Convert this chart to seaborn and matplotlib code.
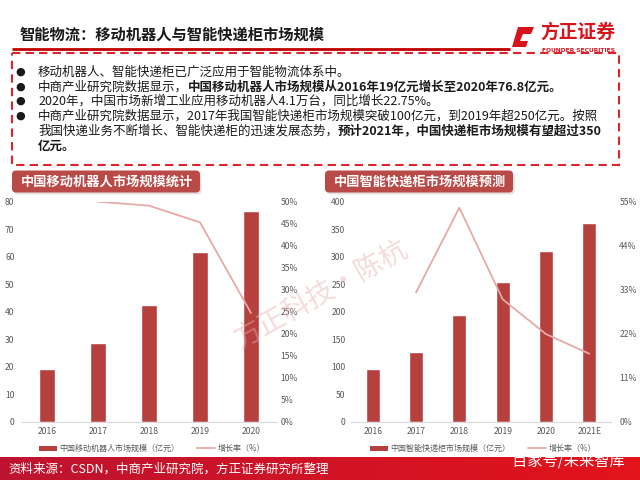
import numpy as np
import pandas as pd
import seaborn as sns
import matplotlib.pyplot as plt
from matplotlib.patches import Rectangle, FancyBboxPatch, Polygon, Patch
from matplotlib.lines import Line2D
from matplotlib.colors import LinearSegmentedColormap

# values
robot_years = ["2016", "2017", "2018", "2019", "2020"]
robot_size = [19.0, 28.5, 42.4, 61.6, 76.8]
robot_growth = [np.nan, 50.0, 49.1, 45.3, 24.7]
robot_ticks = [0, 10, 20, 30, 40, 50, 60, 70, 80]
robot_gticks = [0, 5, 10, 15, 20, 25, 30, 35, 40, 45, 50]

locker_years = ["2016", "2017", "2018", "2019", "2020", "2021E"]
locker_size = [96, 127, 194.5, 254, 310, 362]
locker_growth = [np.nan, 32.3, 53.5, 30.6, 21.9, 17.0]
locker_ticks = [0, 50, 100, 150, 200, 250, 300, 350, 400]
locker_gticks = [0, 11, 22, 33, 44, 55]

title = "智能物流：移动机器人与智能快递柜市场规模"
bullets = [
    [("移动机器人、智能快递柜已广泛应用于智能物流体系中。", "normal")],
    [("中商产业研究院数据显示，", "normal"),
     ("中国移动机器人市场规模从2016年19亿元增长至2020年76.8亿元。", "bold")],
    [("2020年，中国市场新增工业应用移动机器人4.1万台，同比增长22.75%。", "normal")],
    [("中商产业研究院数据显示，2017年我国智能快递柜市场规模突破100亿元，到2019年超250亿元。按照", "normal")],
    [("我国快递业务不断增长、智能快递柜的迅速发展态势，", "normal"),
     ("预计2021年，中国快递柜市场规模有望超过350", "bold")],
    [("亿元。", "bold")],
]
has_dot = [True, True, True, True, False, False]
source = "资料来源：CSDN，中商产业研究院，方正证券研究所整理"

BAR = "#B5403E"
LINE = "#E8A9A6"
GREY = "#595959"
RED = "#D7141C"

sns.set_theme(style="white")
plt.rcParams['font.family'] = ['Noto Sans CJK SC', 'DejaVu Sans']

fig = plt.figure(figsize=(6.4, 4.8), dpi=100)


def px_axes(x0, x1, y_top, y_bot):
    return fig.add_axes([x0 / 640, 1 - y_bot / 480, (x1 - x0) / 640, (y_bot - y_top) / 480])


def draw_chart(ax, years, sizes, growth, ticks, gticks, width, name, pad_l, pad_r, leg_x):
    sns.barplot(x=years, y=sizes, color=BAR, width=width, saturation=1, ax=ax)
    ax.set_ylim(ticks[0], ticks[-1])
    ax.set_yticks(ticks)
    ax.set_xlabel("")
    ax.set_ylabel("")
    ax.tick_params(axis="y", labelsize=6.2, colors=GREY, length=0, pad=pad_l)
    ax.tick_params(axis="x", labelsize=6.2, colors=GREY, length=0, pad=4)
    for s in ["top", "left", "right"]:
        ax.spines[s].set_visible(False)
    ax.spines["bottom"].set_color("#D9D9D9")
    ax.spines["bottom"].set_linewidth(0.8)

    ax2 = ax.twinx()
    g = pd.DataFrame({"pos": np.arange(len(years)), "growth": growth}).dropna()
    sns.lineplot(data=g, x="pos", y="growth", color=LINE, linewidth=1.3, ax=ax2)
    ax2.set_ylim(gticks[0], gticks[-1])
    ax2.set_yticks(gticks)
    ax2.set_yticklabels([f"{v}%" for v in gticks])
    ax2.set_xlabel("")
    ax2.set_ylabel("")
    ax2.tick_params(axis="y", labelsize=6.2, colors=GREY, length=0, pad=pad_r)
    for s in ax2.spines.values():
        s.set_visible(False)
    ax.set_xlim(-0.5, len(years) - 0.5)

    handles = [Patch(facecolor=BAR, edgecolor="none"),
               Line2D([], [], color=LINE, linewidth=1.3)]
    ax.legend(handles, [name, "增长率（%）"], loc="center",
              bbox_to_anchor=(leg_x / 640, 1 - 448.5 / 480),
              bbox_transform=fig.transFigure, ncol=2, frameon=False,
              fontsize=5.8, handlelength=2.2, handleheight=0.55,
              handletextpad=0.3, columnspacing=2.2, labelcolor=GREY)


ax_l = px_axes(21.5, 276.5, 201.7, 421.7)
draw_chart(ax_l, robot_years, robot_size, robot_growth, robot_ticks, robot_gticks,
           0.3, "中国移动机器人市场规模（亿元）", 5, 3, 152)

ax_r = px_axes(351, 611, 201.7, 421.7)
draw_chart(ax_r, locker_years, locker_size, locker_growth, locker_ticks, locker_gticks,
           0.32, "中国智能快递柜市场规模（亿元）", 4, 6, 483)

# slide decorations in pixel coordinates
deco = fig.add_axes([0, 0, 1, 1], zorder=10)
deco.set_xlim(0, 640)
deco.set_ylim(480, 0)
deco.axis("off")

deco.text(20, 35, title, fontsize=11, fontweight="bold", color="#1A1A1A", va="center")
deco.plot([12, 510], [49, 49], color="#C00000", linewidth=2, solid_capstyle="butt")

# logo
deco.add_patch(Polygon([(512, 47), (518, 27), (534, 27), (531, 34), (523, 34),
                        (520, 41), (528, 41), (526, 47)], closed=True,
                       facecolor=RED, edgecolor="none"))
deco.text(540, 32, "方正证券", fontsize=13.5, fontweight="bold", color=RED, va="center")
deco.text(542, 50, "FOUNDER SECURITIES", fontsize=4.3, fontweight="bold", color=RED,
          va="center", family=["DejaVu Sans"])

deco.add_patch(Rectangle((12, 53), 607, 112, fill=False, edgecolor="#D9262E",
                         linewidth=1.5, linestyle=(0, (4, 2.5))))

renderer = fig.canvas.get_renderer()
line_y = [72, 87, 101, 116, 131, 146]
for parts, dot, y in zip(bullets, has_dot, line_y):
    if dot:
        deco.text(15, y, "●", fontsize=8, color="#1A1A1A", va="center", ha="left",
                  family=["DejaVu Sans"])
    x = 38
    for s, w in parts:
        t = deco.text(x, y, s, fontsize=9, fontweight=w, color="#1A1A1A",
                      va="center", ha="left")
        x += t.get_window_extent(renderer).width

# chart title boxes
for x0, label in [(12, "中国移动机器人市场规模统计"), (325, "中国智能快递柜市场规模预测")]:
    deco.add_patch(FancyBboxPatch((x0 + 1.5, 172.5), 188, 22,
                                  boxstyle="round,pad=0,rounding_size=4",
                                  facecolor="#D0D0D0", edgecolor="none", alpha=0.6))
    deco.add_patch(FancyBboxPatch((x0, 170.5), 188, 22,
                                  boxstyle="round,pad=0,rounding_size=4",
                                  facecolor="#BA4A47", edgecolor="none"))
    deco.text(x0 + 9, 182, label, fontsize=9.5, fontweight="bold", color="white",
              va="center", ha="left")

# watermark
deco.text(322, 295, "方正科技·陈杭", fontsize=20, color="#E8B0B0", alpha=0.45,
          rotation=29, ha="center", va="center", rotation_mode="anchor")

# source band
band = LinearSegmentedColormap.from_list("band", ["#BE1330", "#E3141B"])
deco.imshow(np.linspace(0, 1, 256).reshape(1, -1), cmap=band, aspect="auto",
            extent=[0, 640, 480, 457], zorder=1)
deco.set_xlim(0, 640)
deco.set_ylim(480, 0)
deco.text(8, 469, source, fontsize=9, color="white", va="center", ha="left", zorder=2)
deco.text(512, 461, "百家号/未来智库", fontsize=11, color="white", va="center",
          ha="left", zorder=2)

fig.savefig("out.png", dpi=100)
